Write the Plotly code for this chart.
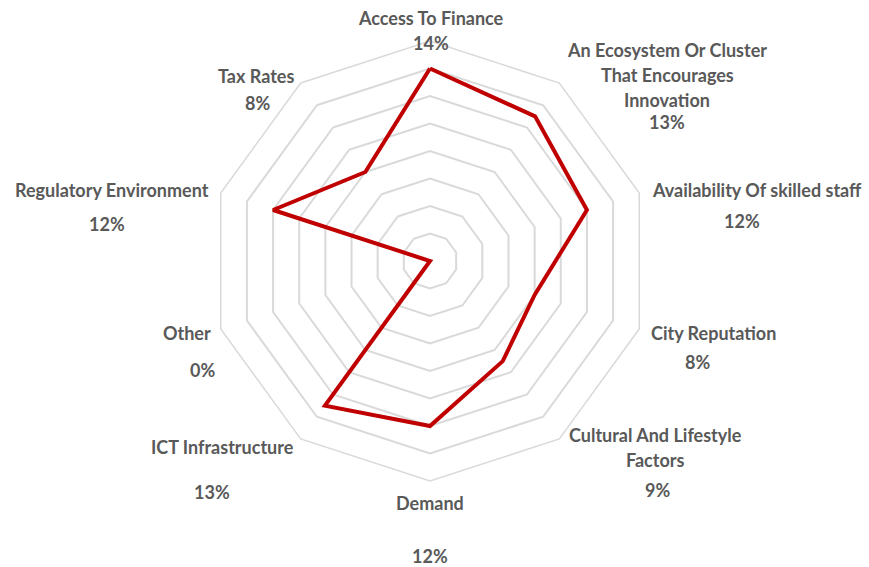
import plotly.graph_objects as go

W, H = 869, 567

# Categories clockwise from the top and their shares (%)
categories = [
    "Access To Finance",
    "An Ecosystem Or Cluster<br>That Encourages<br>Innovation",
    "Availability Of skilled staff",
    "City Reputation",
    "Cultural And Lifestyle<br>Factors",
    "Demand",
    "ICT Infrastructure",
    "Other",
    "Regulatory Environment",
    "Tax Rates",
]
values = [14, 13, 12, 8, 9, 12, 13, 0, 12, 8]

# Label placement in pixels: (name x, first-line y, value x, value y)
label_pos = [
    (431, 18, 431, 43),
    (667, 50, 667, 122),
    (757, 190, 742, 221),
    (713, 333, 697, 362),
    (655, 435, 657, 490),
    (430, 503, 430, 556),
    (222, 447, 212, 492),
    (187, 333, 202, 370),
    (112, 190, 107, 224),
    (256, 76, 257, 103),
]
line_gap = 25

theta = [c.replace("<br>", " ") for c in categories]

fig = go.Figure()
fig.add_trace(go.Scatterpolar(
    r=values + [values[0]],
    theta=theta + [theta[0]],
    mode="lines",
    line=dict(color="#C00000", width=4),
    hoverinfo="skip",
))

# Polar area: center (430, 261), outer radius 220 px
cx, cy, R = 430, 261, 220
grid = "#D9D9D9"
fig.update_layout(
    width=W, height=H,
    margin=dict(l=0, r=0, t=0, b=0),
    paper_bgcolor="white",
    plot_bgcolor="white",
    showlegend=False,
    polar=dict(
        domain=dict(x=[(cx - R) / W, (cx + R) / W], y=[1 - (cy + R) / H, 1 - (cy - R) / H]),
        gridshape="linear",
        bgcolor="white",
        radialaxis=dict(range=[0, 16], dtick=2, showticklabels=False, ticks="",
                        showline=False, gridcolor=grid, gridwidth=1.5),
        angularaxis=dict(direction="clockwise", rotation=90, showticklabels=False,
                         ticks="", showgrid=False, showline=True,
                         linecolor=grid, linewidth=1.5),
    ),
)

label_font = dict(family="Lato", size=18, color="#595959")
for cat, v, (nx, ny, vx, vy) in zip(categories, values, label_pos):
    for i, line in enumerate(cat.split("<br>")):
        fig.add_annotation(text=f"<b>{line}</b>", x=nx / W, y=1 - (ny + i * line_gap) / H,
                           xref="paper", yref="paper", showarrow=False, font=label_font,
                           xanchor="center", yanchor="middle")
    fig.add_annotation(text=f"<b>{v}%</b>", x=vx / W, y=1 - vy / H, xref="paper", yref="paper",
                       showarrow=False, font=label_font, xanchor="center", yanchor="middle")

fig.write_html("out.html")
